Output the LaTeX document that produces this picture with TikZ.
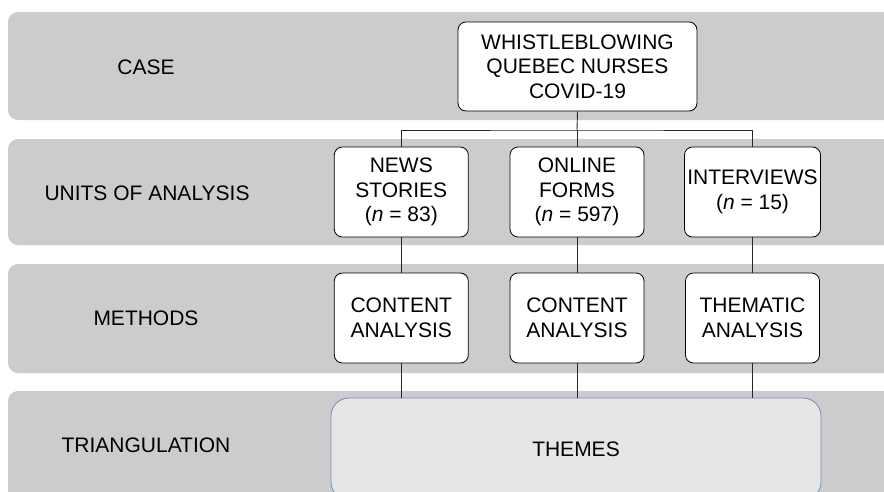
\documentclass[tikz,border=0pt]{standalone}
\usepackage{fontspec}
\setmainfont{Liberation Sans}
\definecolor{bandgray}{HTML}{CCCCCC}
\definecolor{themefill}{HTML}{E6E6E6}
\definecolor{themeborder}{HTML}{6C8EBF}
\begin{document}
\begin{tikzpicture}[x=1pt,y=-1pt,
  band/.style={fill=bandgray, draw=none, rounded corners=10pt},
  txt/.style={font=\fontsize{21}{24.5}\selectfont, align=center},
  wbox/.style={txt, draw=black, fill=white, rounded corners=8pt, line width=0.8pt, inner sep=0pt, minimum width=134pt, minimum height=90pt},
  conn/.style={draw=black!85, line width=0.9pt}]
\useasboundingbox (0,0) rectangle (884,491);
\clip (0,0) rectangle (884,491);
% bands
\fill[band] (8,12) rectangle (910,120);
\fill[band] (8,139) rectangle (910,245);
\fill[band] (8,264) rectangle (910,373);
\fill[band] (8,391) rectangle (910,520);
% row labels
\node[txt] (lcase) at (146,67) {CASE};
\node[txt] (lunits) at (147,193) {UNITS OF ANALYSIS};
\node[txt] (lmeth) at (146,318) {METHODS};
\node[txt] (ltri) at (146,445) {TRIANGULATION};
% boxes
\node[wbox, minimum width=239pt, minimum height=89pt] (case) at (577.5,66.5) {WHISTLEBLOWING\\QUEBEC NURSES\\COVID-19};
\node[wbox] (u1) at (401.3,192) {NEWS\\STORIES\\(\textit{n} = 83)};
\node[wbox] (u2) at (577,192) {ONLINE\\FORMS\\(\textit{n} = 597)};
\node[wbox, minimum width=136pt] (u3) at (752.5,192) {INTERVIEWS\\(\textit{n} = 15)};
\node[wbox] (m1) at (401.3,318) {CONTENT\\ANALYSIS};
\node[wbox] (m2) at (577,318) {CONTENT\\ANALYSIS};
\node[wbox] (m3) at (752.5,318) {THEMATIC\\ANALYSIS};
\node[txt, draw=themeborder, fill=themefill, rounded corners=18pt, line width=0.8pt, minimum width=490pt, minimum height=102pt, inner sep=0pt] (themes) at (576,449) {THEMES};
% connectors
\coordinate (bus) at (577,130);
\draw[conn] (case.south) -- (bus);
\draw[conn] (u1.north) |- (bus) -| (u3.north);
\draw[conn] (bus) -- (u2.north);
\draw[conn] (u1.south) -- (m1.north);
\draw[conn] (u2.south) -- (m2.north);
\draw[conn] (u3.south) -- (m3.north);
\draw[conn] (m1.south) -- (m1.south |- themes.north);
\draw[conn] (m2.south) -- (m2.south |- themes.north);
\draw[conn] (m3.south) -- (m3.south |- themes.north);
\end{tikzpicture}
\end{document}
